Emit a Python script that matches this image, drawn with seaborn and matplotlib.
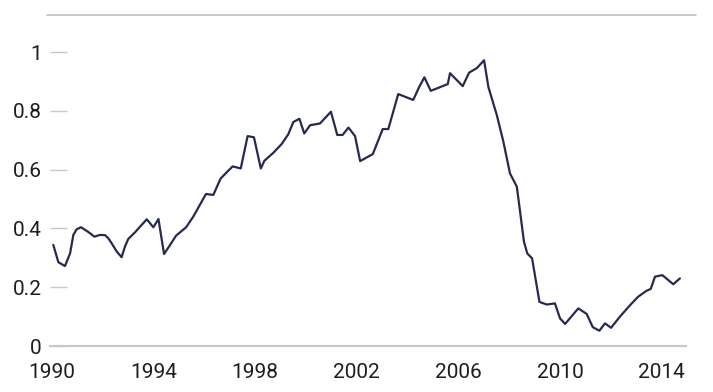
import numpy as np
import pandas as pd
import matplotlib
matplotlib.use("Agg")
import matplotlib.pyplot as plt
from matplotlib.lines import Line2D
import seaborn as sns

years = [1990.05, 1990.25, 1990.51, 1990.71, 1990.84, 1990.97, 1991.14, 1991.41,
         1991.67, 1991.89, 1992.09, 1992.22, 1992.35, 1992.55, 1992.74, 1992.87,
         1993.00, 1993.27, 1993.53, 1993.73, 1993.99, 1994.19, 1994.41, 1994.65,
         1994.88, 1995.28, 1995.56, 1996.06, 1996.35, 1996.64, 1996.88, 1997.11,
         1997.43, 1997.70, 1997.95, 1998.22, 1998.36, 1998.71, 1999.04, 1999.30,
         1999.50, 1999.74, 1999.93, 2000.16, 2000.55, 2000.98, 2001.23, 2001.44,
         2001.67, 2001.93, 2002.13, 2002.63, 2003.02, 2003.24, 2003.63, 2004.22,
         2004.46, 2004.66, 2004.91, 2005.58, 2005.67, 2006.17, 2006.42, 2006.72,
         2007.01, 2007.18, 2007.51, 2007.77, 2008.03, 2008.30, 2008.58, 2008.71,
         2008.90, 2009.19, 2009.48, 2009.80, 2010.00, 2010.20, 2010.72, 2011.05,
         2011.29, 2011.55, 2011.77, 2012.01, 2012.36, 2012.76, 2013.08, 2013.41,
         2013.57, 2013.74, 2014.03, 2014.46, 2014.72]
values = [0.344, 0.285, 0.272, 0.315, 0.378, 0.397, 0.404, 0.389,
          0.372, 0.378, 0.377, 0.366, 0.349, 0.321, 0.302, 0.338,
          0.364, 0.387, 0.412, 0.431, 0.404, 0.432, 0.313, 0.344,
          0.375, 0.404, 0.440, 0.517, 0.514, 0.570, 0.591, 0.611,
          0.604, 0.714, 0.710, 0.604, 0.630, 0.657, 0.687, 0.720,
          0.762, 0.773, 0.723, 0.751, 0.757, 0.797, 0.718, 0.718,
          0.743, 0.714, 0.629, 0.653, 0.738, 0.738, 0.857, 0.837,
          0.882, 0.914, 0.868, 0.891, 0.928, 0.884, 0.930, 0.945,
          0.972, 0.881, 0.786, 0.695, 0.587, 0.542, 0.355, 0.315,
          0.298, 0.150, 0.141, 0.145, 0.094, 0.075, 0.128, 0.109,
          0.064, 0.052, 0.077, 0.062, 0.100, 0.139, 0.168, 0.188,
          0.194, 0.236, 0.241, 0.210, 0.230]

x_ticks = [1990, 1994, 1998, 2002, 2006, 2010, 2014]
y_ticks = [0, 0.2, 0.4, 0.6, 0.8, 1]
y_labels = ["0", "0.2", "0.4", "0.6", "0.8", "1"]

sns.set_style("white")
plt.rcParams["font.family"] = ["Roboto", "DejaVu Sans"]

df = pd.DataFrame({"year": years, "value": values})

fig = plt.figure(figsize=(7.13, 3.92), dpi=100)
ax = fig.add_axes([50 / 713, 1 - 346 / 392, (686 - 50) / 713, (346 - 15) / 392])

sns.lineplot(data=df, x="year", y="value", ax=ax, color="#262a50", linewidth=1.6)

ax.set_xlim(1989.92, 2014.96)
ax.set_ylim(0, 1.126)
ax.set_xticks(x_ticks)
ax.set_xticklabels([str(t) for t in x_ticks])
ax.set_yticks(y_ticks)
ax.set_yticklabels(y_labels)
ax.set_xlabel("")
ax.set_ylabel("")

for s in ["top", "right", "left"]:
    ax.spines[s].set_visible(False)
ax.spines["bottom"].set_color("#c8c8c8")
ax.spines["bottom"].set_linewidth(1.5)

ax.tick_params(axis="x", bottom=False, length=0, pad=12, labelsize=15, labelcolor="#1e1e1e")
ax.tick_params(axis="y", left=True, direction="in", length=12, width=1, color="#c8c8c8",
               pad=6, labelsize=15, labelcolor="#1e1e1e")

# thin rule across the top
fig.add_artist(Line2D([47 / 713, 696 / 713], [1 - 15 / 392, 1 - 15 / 392],
                      transform=fig.transFigure, color="#c0c0c0", linewidth=1.2))

fig.savefig("out.png", dpi=100)
